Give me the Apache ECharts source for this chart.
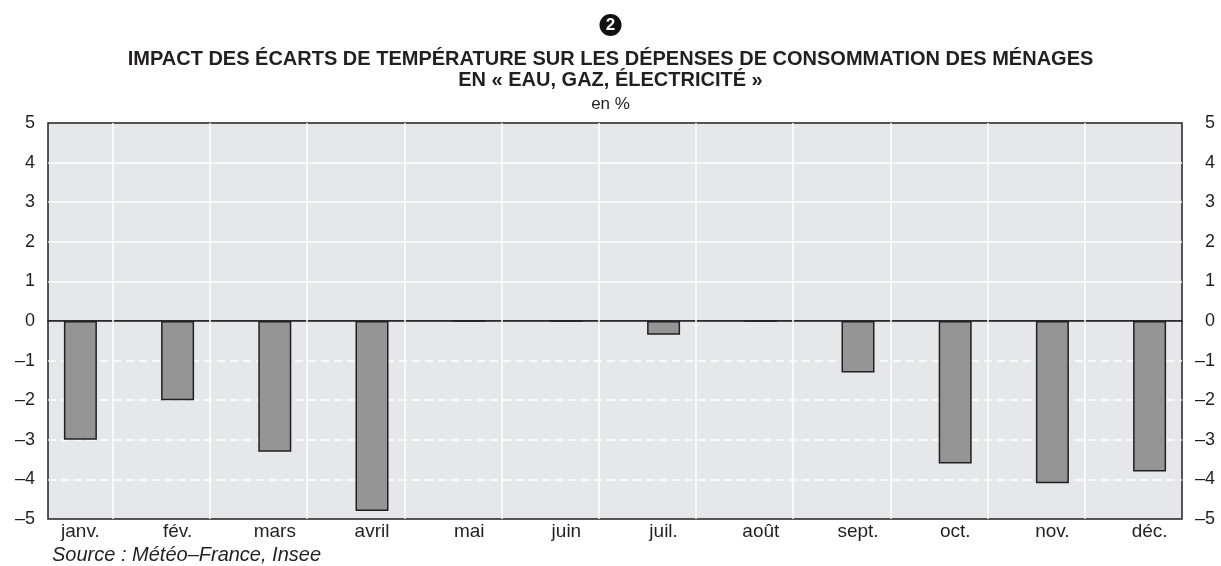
<!DOCTYPE html>
<html>
<head>
<meta charset="utf-8">
<script src="https://cdn.jsdelivr.net/npm/echarts@6/dist/echarts.min.js"></script>
<style>
  html, body { margin: 0; padding: 0; background: #fff; }
  #chart { width: 1221px; height: 566px; }
</style>
</head>
<body>
<div id="chart"></div>
<script>
// donnees
var months = ['janv.', 'fév.', 'mars', 'avril', 'mai', 'juin', 'juil.', 'août', 'sept.', 'oct.', 'nov.', 'déc.'];
var impact = [-3.0, -2.0, -3.3, -4.8, 0, 0, -0.35, 0, -1.3, -3.6, -4.1, -3.8];

var titleText = 'IMPACT DES ÉCARTS DE TEMPÉRATURE SUR LES DÉPENSES DE CONSOMMATION DES MÉNAGES';
var subText = 'EN « EAU, GAZ, ÉLECTRICITÉ »';
var unitText = 'en %';
var sourceText = 'Source : Météo–France, Insee';

var font = "'Liberation Sans', Arial, sans-serif";
var ink = '#231f20';

var myChart = echarts.init(document.getElementById('chart'));

function fmtY(v) {
    return v < 0 ? '\u2013' + Math.abs(v) : String(v);
}

var barData = [];
for (var i = 0; i < months.length; i++) {
    barData.push([i, impact[i]]);
}

var gridLineAxis = function (idx) {
    return {
        type: 'value',
        gridIndex: idx,
        position: 'top',
        min: -2 / 3,
        max: 11,
        minInterval: 1,
        maxInterval: 1,
        axisLine: { show: false },
        axisTick: { show: false },
        axisLabel: { show: false },
        splitLine: {
            show: true,
            showMinLine: false,
            showMaxLine: false,
            lineStyle: { color: '#ffffff', width: 1.5 }
        }
    };
};

var yLabel = function (pos) {
    return {
        show: true,
        formatter: fmtY,
        color: ink,
        fontSize: 18,
        fontFamily: font,
        align: 'right',
        margin: pos === 'left' ? 13 : 33
    };
};

var option = {
    backgroundColor: '#ffffff',
    animation: false,
    title: [{
        text: '{num|2}',
        left: 'center',
        top: 9,
        textStyle: {
            rich: {
                num: {
                    backgroundColor: '#111',
                    color: '#fff',
                    borderRadius: 11,
                    width: 22,
                    height: 22,
                    lineHeight: 22,
                    align: 'center',
                    fontSize: 17,
                    fontWeight: 'bold',
                    fontFamily: font
                }
            }
        }
    }, {
        text: titleText,
        left: 'center',
        top: 49,
        padding: 0,
        textStyle: { color: ink, fontSize: 20, fontWeight: 'bold', fontFamily: font }
    }, {
        text: subText,
        left: 'center',
        top: 70,
        padding: 0,
        textStyle: { color: ink, fontSize: 20, fontWeight: 'bold', fontFamily: font }
    }, {
        text: unitText,
        left: 'center',
        top: 96,
        padding: 0,
        textStyle: { color: ink, fontSize: 17, fontWeight: 'normal', fontFamily: font }
    }, {
        text: sourceText,
        left: 52,
        top: 545,
        padding: 0,
        textStyle: { color: ink, fontSize: 20, fontWeight: 'normal', fontStyle: 'italic', fontFamily: font }
    }],
    grid: [{
        left: 48, right: 39, top: 123, height: 198,
        show: true, backgroundColor: '#e6e7e8', borderColor: ink, borderWidth: 1.5
    }, {
        left: 48, right: 39, top: 321, height: 198,
        show: true, backgroundColor: '#e6e7e8', borderColor: ink, borderWidth: 1.5
    }],
    xAxis: [
        gridLineAxis(0),
        gridLineAxis(1),
        {
            type: 'value',
            gridIndex: 1,
            position: 'bottom',
            min: -1 / 3,
            max: 34 / 3,
            minInterval: 1,
            maxInterval: 1,
            axisLine: { show: false },
            axisTick: { show: false },
            splitLine: { show: false },
            axisLabel: {
                show: true,
                showMinLabel: false,
                showMaxLabel: false,
                margin: 3,
                color: ink,
                fontSize: 19,
                fontFamily: font,
                formatter: function (v) {
                    return months[v] || '';
                }
            }
        }
    ],
    yAxis: [{
        type: 'value', gridIndex: 0, position: 'left',
        min: 0, max: 5, interval: 1,
        axisLine: { show: false }, axisTick: { show: false },
        axisLabel: Object.assign(yLabel('left'), { showMinLabel: false }),
        splitLine: {
            show: true, showMinLine: false, showMaxLine: false,
            lineStyle: { color: '#ffffff', width: 1.5, type: 'solid' }
        }
    }, {
        type: 'value', gridIndex: 0, position: 'right',
        min: 0, max: 5, interval: 1,
        axisLine: { show: false }, axisTick: { show: false },
        axisLabel: Object.assign(yLabel('right'), { showMinLabel: false }),
        splitLine: { show: false }
    }, {
        type: 'value', gridIndex: 1, position: 'left',
        min: -5, max: 0, interval: 1,
        axisLine: { show: false }, axisTick: { show: false },
        axisLabel: yLabel('left'),
        splitLine: {
            show: true, showMinLine: false, showMaxLine: false,
            lineStyle: { color: '#ffffff', width: 1.5, type: [8, 5] }
        }
    }, {
        type: 'value', gridIndex: 1, position: 'right',
        min: -5, max: 0, interval: 1,
        axisLine: { show: false }, axisTick: { show: false },
        axisLabel: yLabel('right'),
        splitLine: { show: false }
    }],
    series: [{
        name: 'impact',
        type: 'bar',
        xAxisIndex: 2,
        yAxisIndex: 2,
        barWidth: 33,
        itemStyle: { color: '#959595', borderColor: ink, borderWidth: 1.5 },
        data: barData
    }]
};

myChart.setOption(option);
</script>
</body>
</html>
